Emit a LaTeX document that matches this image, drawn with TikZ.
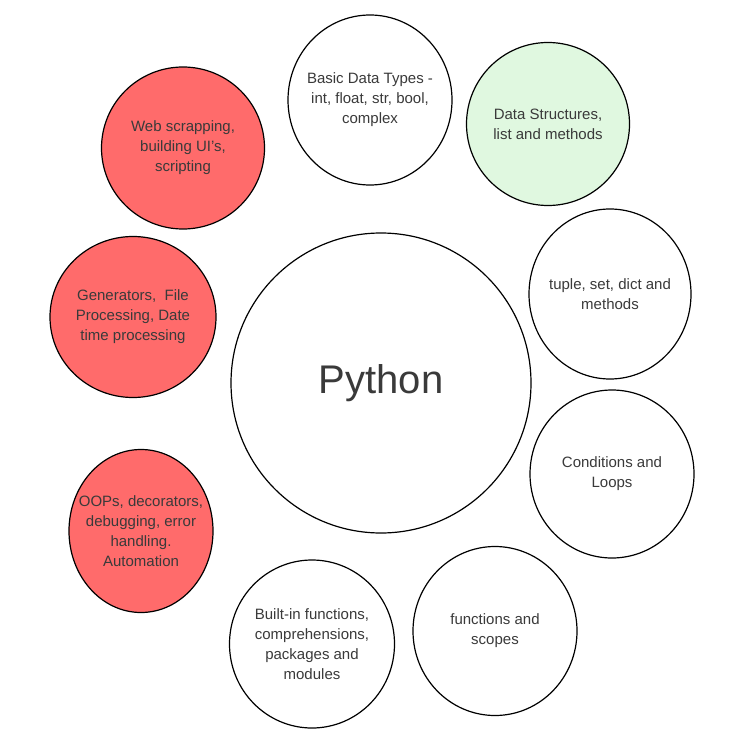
\documentclass[tikz,border=0pt]{standalone}
\usepackage{fontspec}
\setmainfont{Liberation Sans}
\usetikzlibrary{shapes.geometric}
\definecolor{txt}{HTML}{3A3A3A}
\definecolor{redfill}{HTML}{FF6B6B}
\definecolor{greenfill}{HTML}{E0F8E0}
\tikzset{
  bub/.style={ellipse,draw=black,line width=1.2pt,fill=white,inner sep=0pt},
  redb/.style={bub,fill=redfill},
  greenb/.style={bub,fill=greenfill},
  lbl/.style={text=txt,align=center,font=\fontsize{15}{20}\selectfont,inner sep=0pt}
}
\begin{document}
\begin{tikzpicture}[x=1pt,y=-1pt]
\useasboundingbox (0,0) rectangle (751,735);
\node[bub,minimum width=300pt,minimum height=300pt] (py) at (381,383) {};
\node[lbl,font=\fontsize{40}{48}\selectfont] at (py) {Python};
\node[bub,minimum width=164pt,minimum height=170pt] (basic) at (370,100) {};
\node[lbl] at (basic) {Basic Data Types -\\int, float, str, bool,\\complex};
\node[greenb,minimum width=163pt,minimum height=163pt] (ds) at (548,124) {};
\node[lbl] at (ds) {Data Structures,\\list and methods};
\node[bub,minimum width=162pt,minimum height=170pt] (tup) at (610,294) {};
\node[lbl] at (tup) {tuple, set, dict and\\methods};
\node[bub,minimum width=164pt,minimum height=168pt] (cond) at (612,474) {};
\node[lbl] at (cond) {Conditions and\\Loops};
\node[bub,minimum width=164pt,minimum height=169pt] (fun) at (495,631) {};
\node[lbl] at (fun) {functions and\\scopes};
\node[bub,minimum width=165pt,minimum height=168pt] (bi) at (312,644) {};
\node[lbl] at (bi) {Built-in functions,\\comprehensions,\\packages and\\modules};
\node[redb,minimum width=144pt,minimum height=163pt] (oop) at (141,531) {};
\node[lbl] at (oop) {OOPs, decorators,\\debugging, error\\handling.\\Automation};
\node[redb,minimum width=166pt,minimum height=161pt] (gen) at (133,317) {};
\node[lbl] at (gen) {Generators,\ \ File\\Processing, Date\\time processing};
\node[redb,minimum width=163pt,minimum height=162pt] (web) at (183,148) {};
\node[lbl] at (web) {Web scrapping,\\building UI's,\\scripting};
\end{tikzpicture}
\end{document}
